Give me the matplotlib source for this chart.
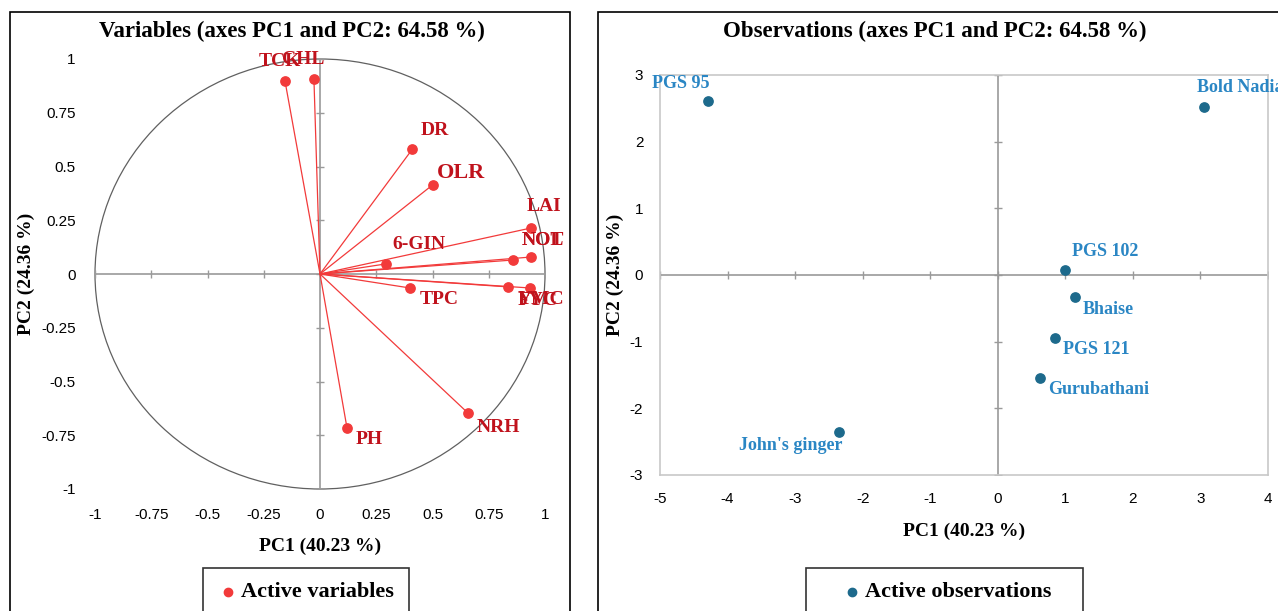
import matplotlib.pyplot as plt
import matplotlib.patches as mpatches

# variables (correlation circle)
var_names = ["TCK", "CHL", "DR", "OLR", "LAI", "NOT", "NOL", "6-GIN", "TPC", "YMC", "FYC", "PH", "NRH"]
var_pc1 = [-0.156, -0.027, 0.41, 0.50, 0.938, 0.938, 0.858, 0.293, 0.40, 0.836, 0.933, 0.12, 0.658]
var_pc2 = [0.90, 0.907, 0.58, 0.414, 0.214, 0.079, 0.065, 0.047, -0.065, -0.06, -0.065, -0.716, -0.647]
var_offsets = [(-26, 19), (-32, 19), (8, 19), (4, 12), (-4, 21), (-9, 17), (9, 20),
               (6, 19), (10, -12), (10, -13), (-12, -13), (9, -12), (9, -14)]
var_sizes = [14, 14, 14, 16, 14, 14, 14, 14, 14, 14, 14, 14, 14]

# observations
obs_names = ["PGS 95", "Bold Nadia", "PGS 102", "Bhaise", "PGS 121", "Gurubathani", "John's ginger"]
obs_pc1 = [-4.29, 3.05, 0.99, 1.14, 0.84, 0.62, -2.35]
obs_pc2 = [2.61, 2.52, 0.075, -0.33, -0.945, -1.545, -2.355]
obs_offsets = [(-27, 18), (-7, 20), (7, 18), (8, -13), (8, -12), (8, -12), (3, -13)]
obs_align = ["center", "left", "left", "left", "left", "left", "right"]

left_ticks = [-1, -0.75, -0.5, -0.25, 0, 0.25, 0.5, 0.75, 1]
left_ticklabels = ["-1", "-0.75", "-0.5", "-0.25", "0", "0.25", "0.5", "0.75", "1"]
right_xticks = [-5, -4, -3, -2, -1, 0, 1, 2, 3, 4]
right_yticks = [-3, -2, -1, 0, 1, 2, 3]

RED = "#f23a3a"
DARKRED = "#c0121c"
NAVY = "#1d6a8c"
BLUE = "#2a86c4"
GREY = "#9a9a9a"
SERIF = "Liberation Serif"
SANS = "Liberation Sans"

W, H = 1278, 611
fig = plt.figure(figsize=(W / 100, H / 100), dpi=100)


def fx(px):
    return px / W


def fy(py):
    return 1 - py / H


def box(x0, y0, x1, y1, lw=1.2, ec="black"):
    fig.patches.append(mpatches.Rectangle((fx(x0), fy(y1)), fx(x1 - x0), (y1 - y0) / H,
                                          transform=fig.transFigure, fill=False,
                                          edgecolor=ec, lw=lw))


# panel boxes
box(10, 12, 570, 640)
box(598, 12, 1300, 640)

# titles centred on the panels
fig.text(fx(292), fy(31), "Variables (axes PC1 and PC2: 64.58 %)", ha="center", va="center",
         family=SERIF, fontweight="bold", fontsize=16.5)
fig.text(fx(935), fy(31), "Observations (axes PC1 and PC2: 64.58 %)", ha="center", va="center",
         family=SERIF, fontweight="bold", fontsize=16.5)

# ---------- left: correlation circle
ax1 = fig.add_axes([fx(95), fy(489), fx(450), 430 / H])
ax1.set_xlim(-1, 1)
ax1.set_ylim(-1, 1)
for s in ax1.spines.values():
    s.set_visible(False)
ax1.add_patch(mpatches.Ellipse((0, 0), 2, 2, fill=False, edgecolor="#606060", lw=0.9, clip_on=False))
ax1.axhline(0, color=GREY, lw=1.2, zorder=1)
ax1.axvline(0, color=GREY, lw=1.2, zorder=1)
ax1.plot(left_ticks, [0] * len(left_ticks), ls="none", marker="|", ms=6, color=GREY, zorder=1)
ax1.plot([0] * len(left_ticks), left_ticks, ls="none", marker="_", ms=6, color=GREY, zorder=1)
for x, y in zip(var_pc1, var_pc2):
    ax1.plot([0, x], [0, y], color=RED, lw=0.9, zorder=2)
ax1.scatter(var_pc1, var_pc2, s=45, color=RED, zorder=3, clip_on=False)
for name, x, y, off, fs in zip(var_names, var_pc1, var_pc2, var_offsets, var_sizes):
    ax1.annotate(name, (x, y), xytext=off, textcoords="offset pixels", ha="left", va="center",
                 color=DARKRED, fontsize=fs, fontweight="bold", family=SERIF)
ax1.set_xticks(left_ticks)
ax1.set_xticklabels(left_ticklabels, family=SANS, fontsize=11)
ax1.set_yticks(left_ticks)
ax1.set_yticklabels(left_ticklabels, family=SANS, fontsize=11)
ax1.tick_params(length=0, pad=14)
ax1.set_xlabel("PC1 (40.23 %)", family=SERIF, fontweight="bold", fontsize=14, labelpad=11)
ax1.set_ylabel("PC2 (24.36 %)", family=SERIF, fontweight="bold", fontsize=14, labelpad=4)

# ---------- right: observations
ax2 = fig.add_axes([fx(660), fy(475), fx(608), 400 / H])
ax2.set_xlim(-5, 4)
ax2.set_ylim(-3, 3)
for s in ax2.spines.values():
    s.set_color("#c8c8c8")
    s.set_linewidth(1.2)
ax2.axhline(0, color=GREY, lw=1.2, zorder=1)
ax2.axvline(0, color=GREY, lw=1.2, zorder=1)
ax2.plot(right_xticks, [0] * len(right_xticks), ls="none", marker="|", ms=6, color=GREY, zorder=1)
ax2.plot([0] * len(right_yticks), right_yticks, ls="none", marker="_", ms=6, color=GREY, zorder=1)
ax2.scatter(obs_pc1, obs_pc2, s=45, color=NAVY, zorder=3)
for name, x, y, off, al in zip(obs_names, obs_pc1, obs_pc2, obs_offsets, obs_align):
    ax2.annotate(name, (x, y), xytext=off, textcoords="offset pixels", ha=al, va="center",
                 color=BLUE, fontsize=13, fontweight="bold", family=SERIF)
ax2.set_xticks(right_xticks)
ax2.set_yticks(right_yticks)
ax2.set_xticklabels([str(v) for v in right_xticks], family=SANS, fontsize=11)
ax2.set_yticklabels([str(v) for v in right_yticks], family=SANS, fontsize=11)
ax2.tick_params(length=0, pad=12)
ax2.set_xlabel("PC1 (40.23 %)", family=SERIF, fontweight="bold", fontsize=14, labelpad=12)
ax2.set_ylabel("PC2 (24.36 %)", family=SERIF, fontweight="bold", fontsize=14, labelpad=4)

# legend boxes (cut by the bottom edge, as in the source)
for x0, x1, mx, label, col in [(203, 409, 228, "Active variables", RED),
                                (806, 1083, 852, "Active observations", NAVY)]:
    box(x0, 568, x1, 640, lw=1.2, ec="#333333")
    fig.lines.append(plt.Line2D([fx(mx)], [fy(592)], transform=fig.transFigure, ls="none",
                                marker="o", ms=6, color=col))
    fig.text(fx(mx + 13), fy(592), label, ha="left", va="center", family=SERIF,
             fontweight="bold", fontsize=16)

fig.savefig("out.png", dpi=100)
